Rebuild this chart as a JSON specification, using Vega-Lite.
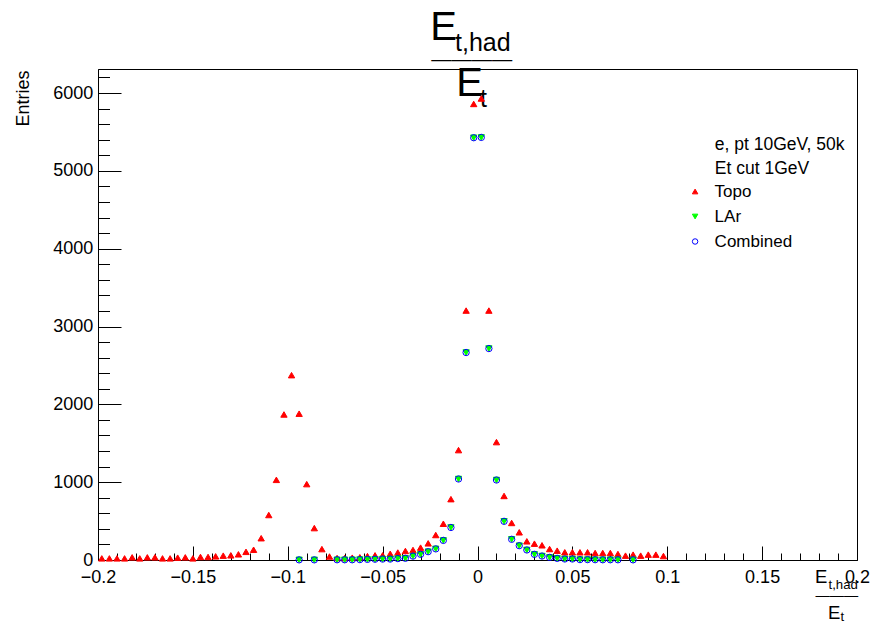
{
  "$schema": "https://vega.github.io/schema/vega-lite/v6.json",
  "width": 759,
  "height": 491,
  "autosize": {"type": "none"},
  "padding": {"left": 98, "top": 69, "right": 18, "bottom": 67},
  "background": "white",
  "config": {
    "view": {"stroke": "black", "strokeWidth": 1},
    "font": "Liberation Sans",
    "axis": {"grid": false},
    "legend": {
      "orient": "none", "legendX": 588.6, "legendY": 114, "padding": 0,
      "labelFont": "Liberation Sans", "labelFontSize": 17, "labelColor": "black", "labelOffset": 11, "labelLimit": 0,
      "symbolSize": 30, "symbolStrokeWidth": 1, "rowPadding": 7
    }
  },
  "data": {
    "values": [
      {"s": "Topo", "x": -0.198, "n": 21}, {"s": "Topo", "x": -0.194, "n": 21}, {"s": "Topo", "x": -0.19, "n": 21}, {"s": "Topo", "x": -0.186, "n": 21},
      {"s": "Topo", "x": -0.182, "n": 34}, {"s": "Topo", "x": -0.178, "n": 21}, {"s": "Topo", "x": -0.174, "n": 34}, {"s": "Topo", "x": -0.17, "n": 34},
      {"s": "Topo", "x": -0.166, "n": 21}, {"s": "Topo", "x": -0.162, "n": 21}, {"s": "Topo", "x": -0.158, "n": 30}, {"s": "Topo", "x": -0.154, "n": 34},
      {"s": "Topo", "x": -0.15, "n": 21}, {"s": "Topo", "x": -0.146, "n": 39}, {"s": "Topo", "x": -0.142, "n": 39}, {"s": "Topo", "x": -0.138, "n": 47},
      {"s": "Topo", "x": -0.134, "n": 56}, {"s": "Topo", "x": -0.13, "n": 60}, {"s": "Topo", "x": -0.126, "n": 73}, {"s": "Topo", "x": -0.122, "n": 105},
      {"s": "Topo", "x": -0.118, "n": 132}, {"s": "Topo", "x": -0.114, "n": 280}, {"s": "Topo", "x": -0.11, "n": 578}, {"s": "Topo", "x": -0.106, "n": 1030},
      {"s": "Topo", "x": -0.102, "n": 1870}, {"s": "Topo", "x": -0.098, "n": 2375}, {"s": "Topo", "x": -0.094, "n": 1880}, {"s": "Topo", "x": -0.09, "n": 975},
      {"s": "Topo", "x": -0.086, "n": 410}, {"s": "Topo", "x": -0.082, "n": 140}, {"s": "Topo", "x": -0.078, "n": 45}, {"s": "Topo", "x": -0.074, "n": 25},
      {"s": "Topo", "x": -0.07, "n": 25}, {"s": "Topo", "x": -0.066, "n": 30}, {"s": "Topo", "x": -0.062, "n": 35}, {"s": "Topo", "x": -0.058, "n": 50},
      {"s": "Topo", "x": -0.054, "n": 60}, {"s": "Topo", "x": -0.05, "n": 60}, {"s": "Topo", "x": -0.046, "n": 80}, {"s": "Topo", "x": -0.042, "n": 96},
      {"s": "Topo", "x": -0.038, "n": 116}, {"s": "Topo", "x": -0.034, "n": 129}, {"s": "Topo", "x": -0.03, "n": 159}, {"s": "Topo", "x": -0.026, "n": 214},
      {"s": "Topo", "x": -0.022, "n": 321}, {"s": "Topo", "x": -0.018, "n": 466}, {"s": "Topo", "x": -0.014, "n": 782}, {"s": "Topo", "x": -0.01, "n": 1412},
      {"s": "Topo", "x": -0.006, "n": 3205}, {"s": "Topo", "x": -0.002, "n": 5860}, {"s": "Topo", "x": 0.002, "n": 5930}, {"s": "Topo", "x": 0.006, "n": 3205},
      {"s": "Topo", "x": 0.01, "n": 1515}, {"s": "Topo", "x": 0.014, "n": 823}, {"s": "Topo", "x": 0.018, "n": 476}, {"s": "Topo", "x": 0.022, "n": 356},
      {"s": "Topo", "x": 0.026, "n": 240}, {"s": "Topo", "x": 0.03, "n": 210}, {"s": "Topo", "x": 0.034, "n": 189}, {"s": "Topo", "x": 0.038, "n": 141},
      {"s": "Topo", "x": 0.042, "n": 120}, {"s": "Topo", "x": 0.046, "n": 99}, {"s": "Topo", "x": 0.05, "n": 99}, {"s": "Topo", "x": 0.054, "n": 99},
      {"s": "Topo", "x": 0.058, "n": 99}, {"s": "Topo", "x": 0.062, "n": 90}, {"s": "Topo", "x": 0.066, "n": 90}, {"s": "Topo", "x": 0.07, "n": 90},
      {"s": "Topo", "x": 0.074, "n": 77}, {"s": "Topo", "x": 0.078, "n": 56}, {"s": "Topo", "x": 0.082, "n": 69}, {"s": "Topo", "x": 0.086, "n": 56},
      {"s": "Topo", "x": 0.09, "n": 69}, {"s": "Topo", "x": 0.094, "n": 69}, {"s": "Topo", "x": 0.098, "n": 51},
      {"s": "LAr", "x": -0.094, "n": 2}, {"s": "LAr", "x": -0.086, "n": 2}, {"s": "LAr", "x": -0.074, "n": 3}, {"s": "LAr", "x": -0.07, "n": 3},
      {"s": "LAr", "x": -0.066, "n": 3}, {"s": "LAr", "x": -0.062, "n": 5}, {"s": "LAr", "x": -0.058, "n": 8}, {"s": "LAr", "x": -0.054, "n": 10},
      {"s": "LAr", "x": -0.05, "n": 12}, {"s": "LAr", "x": -0.046, "n": 12}, {"s": "LAr", "x": -0.042, "n": 18}, {"s": "LAr", "x": -0.038, "n": 22},
      {"s": "LAr", "x": -0.034, "n": 50}, {"s": "LAr", "x": -0.03, "n": 73}, {"s": "LAr", "x": -0.026, "n": 107}, {"s": "LAr", "x": -0.022, "n": 143},
      {"s": "LAr", "x": -0.018, "n": 252}, {"s": "LAr", "x": -0.014, "n": 418}, {"s": "LAr", "x": -0.01, "n": 1041}, {"s": "LAr", "x": -0.006, "n": 2666},
      {"s": "LAr", "x": -0.002, "n": 5426}, {"s": "LAr", "x": 0.002, "n": 5430}, {"s": "LAr", "x": 0.006, "n": 2717}, {"s": "LAr", "x": 0.01, "n": 1028},
      {"s": "LAr", "x": 0.014, "n": 497}, {"s": "LAr", "x": 0.018, "n": 266}, {"s": "LAr", "x": 0.022, "n": 184}, {"s": "LAr", "x": 0.026, "n": 129},
      {"s": "LAr", "x": 0.03, "n": 73}, {"s": "LAr", "x": 0.034, "n": 51}, {"s": "LAr", "x": 0.038, "n": 34}, {"s": "LAr", "x": 0.042, "n": 21},
      {"s": "LAr", "x": 0.046, "n": 13}, {"s": "LAr", "x": 0.05, "n": 13}, {"s": "LAr", "x": 0.054, "n": 5}, {"s": "LAr", "x": 0.058, "n": 5},
      {"s": "LAr", "x": 0.062, "n": 4}, {"s": "LAr", "x": 0.066, "n": 3}, {"s": "LAr", "x": 0.07, "n": 3}, {"s": "LAr", "x": 0.074, "n": 3},
      {"s": "LAr", "x": 0.082, "n": 2},
      {"s": "Combined", "x": -0.094, "n": 2}, {"s": "Combined", "x": -0.086, "n": 2}, {"s": "Combined", "x": -0.074, "n": 3}, {"s": "Combined", "x": -0.07, "n": 3},
      {"s": "Combined", "x": -0.066, "n": 3}, {"s": "Combined", "x": -0.062, "n": 5}, {"s": "Combined", "x": -0.058, "n": 8}, {"s": "Combined", "x": -0.054, "n": 10},
      {"s": "Combined", "x": -0.05, "n": 12}, {"s": "Combined", "x": -0.046, "n": 12}, {"s": "Combined", "x": -0.042, "n": 18}, {"s": "Combined", "x": -0.038, "n": 22},
      {"s": "Combined", "x": -0.034, "n": 50}, {"s": "Combined", "x": -0.03, "n": 73}, {"s": "Combined", "x": -0.026, "n": 107}, {"s": "Combined", "x": -0.022, "n": 143},
      {"s": "Combined", "x": -0.018, "n": 252}, {"s": "Combined", "x": -0.014, "n": 418}, {"s": "Combined", "x": -0.01, "n": 1041}, {"s": "Combined", "x": -0.006, "n": 2666},
      {"s": "Combined", "x": -0.002, "n": 5426}, {"s": "Combined", "x": 0.002, "n": 5430}, {"s": "Combined", "x": 0.006, "n": 2717}, {"s": "Combined", "x": 0.01, "n": 1028},
      {"s": "Combined", "x": 0.014, "n": 497}, {"s": "Combined", "x": 0.018, "n": 266}, {"s": "Combined", "x": 0.022, "n": 184}, {"s": "Combined", "x": 0.026, "n": 129},
      {"s": "Combined", "x": 0.03, "n": 73}, {"s": "Combined", "x": 0.034, "n": 51}, {"s": "Combined", "x": 0.038, "n": 34}, {"s": "Combined", "x": 0.042, "n": 21},
      {"s": "Combined", "x": 0.046, "n": 13}, {"s": "Combined", "x": 0.05, "n": 13}, {"s": "Combined", "x": 0.054, "n": 5}, {"s": "Combined", "x": 0.058, "n": 5},
      {"s": "Combined", "x": 0.062, "n": 4}, {"s": "Combined", "x": 0.066, "n": 3}, {"s": "Combined", "x": 0.07, "n": 3}, {"s": "Combined", "x": 0.074, "n": 3},
      {"s": "Combined", "x": 0.082, "n": 2}
    ]
  },
  "resolve": {"scale": {"x": "shared", "y": "shared"}, "axis": {"x": "independent", "y": "independent"}},
  "layer": [
    {
      "mark": {"type": "point", "opacity": 1, "strokeWidth": 1, "size": 40},
      "encoding": {
        "x": {
          "field": "x", "type": "quantitative",
          "scale": {"domain": [-0.2, 0.2], "nice": false, "zero": false},
          "axis": {
            "orient": "bottom",
            "values": [-0.2, -0.19, -0.18, -0.17, -0.16, -0.15, -0.14, -0.13, -0.12, -0.11, -0.1, -0.09, -0.08, -0.07, -0.06, -0.05, -0.04, -0.03, -0.02, -0.01, 0, 0.01, 0.02, 0.03, 0.04, 0.05, 0.06, 0.07, 0.08, 0.09, 0.1, 0.11, 0.12, 0.13, 0.14, 0.15, 0.16, 0.17, 0.18, 0.19, 0.2],
            "format": "~g",
            "labelExpr": "abs(round(datum.value*100)) % 5 == 0 ? datum.label : ''",
            "tickSize": {"condition": {"test": "abs(round(datum.value*100)) % 5 == 0", "value": -14}, "value": -7},
            "tickColor": "black", "tickWidth": 1,
            "domainColor": "black", "domainWidth": 1,
            "labelFont": "Liberation Sans", "labelFontSize": 18, "labelColor": "black",
            "labelPadding": 22, "labelFlush": false, "labelOverlap": false, "labelBound": false,
            "title": "E", "titleX": 716.5, "titleY": 22, "titleAlign": "left", "titleBaseline": "alphabetic", "titleAngle": 0,
            "titleFont": "Liberation Sans", "titleFontSize": 18.5, "titleFontWeight": "normal", "titleColor": "black"
          }
        },
        "y": {
          "field": "n", "type": "quantitative",
          "scale": {"domain": [0, 6309], "nice": false, "zero": true},
          "axis": {
            "orient": "left",
            "values": [0, 200, 400, 600, 800, 1000, 1200, 1400, 1600, 1800, 2000, 2200, 2400, 2600, 2800, 3000, 3200, 3400, 3600, 3800, 4000, 4200, 4400, 4600, 4800, 5000, 5200, 5400, 5600, 5800, 6000, 6200],
            "format": "d",
            "labelExpr": "datum.value % 1000 == 0 ? datum.label : ''",
            "tickSize": {"condition": {"test": "datum.value % 1000 == 0", "value": -23}, "value": -11.5},
            "tickColor": "black", "tickWidth": 1,
            "domainColor": "black", "domainWidth": 1,
            "labelFont": "Liberation Sans", "labelFontSize": 18, "labelColor": "black",
            "labelPadding": 28.3, "labelFlush": false, "labelOverlap": false, "labelBound": false,
            "title": "Entries", "titleX": -70, "titleY": 1, "titleAlign": "right", "titleBaseline": "alphabetic", "titleAngle": -90,
            "titleFont": "Liberation Sans", "titleFontSize": 18, "titleFontWeight": "normal", "titleColor": "black"
          }
        },
        "shape": {
          "field": "s", "type": "nominal",
          "scale": {"domain": ["Topo", "LAr", "Combined"], "range": ["triangle-up", "triangle-down", "circle"]},
          "legend": {"title": null}
        },
        "fill": {
          "field": "s", "type": "nominal",
          "scale": {"domain": ["Topo", "LAr", "Combined"], "range": ["#ff0000", "#00ff00", "transparent"]},
          "legend": {"title": null}
        },
        "stroke": {
          "field": "s", "type": "nominal",
          "scale": {"domain": ["Topo", "LAr", "Combined"], "range": ["#ff0000", "#00ff00", "#0000ff"]},
          "legend": {"title": null}
        }
      }
    },
    {
      "transform": [{"filter": "false"}],
      "mark": "point",
      "encoding": {
        "x": {"field": "x", "type": "quantitative", "axis": {"orient": "top", "domain": false, "ticks": false, "labels": false, "title": "E", "titleX": 331.8, "titleY": -30, "titleAlign": "left", "titleBaseline": "alphabetic", "titleAngle": 0, "titleFont": "Liberation Sans", "titleFontSize": 40, "titleFontWeight": "normal", "titleColor": "black"}},
        "y": {"field": "n", "type": "quantitative", "axis": {"orient": "left", "domain": false, "ticks": false, "labels": false, "title": "t,had", "titleX": 356.5, "titleY": -18.3, "titleAlign": "left", "titleBaseline": "alphabetic", "titleAngle": 0, "titleFont": "Liberation Sans", "titleFontSize": 25, "titleFontWeight": "normal", "titleColor": "black"}}
      }
    },
    {
      "transform": [{"filter": "false"}],
      "mark": "point",
      "encoding": {
        "x": {"field": "x", "type": "quantitative", "axis": {"orient": "top", "domain": false, "ticks": false, "labels": false, "title": "————", "titleX": 332.7, "titleY": -3.7, "titleAlign": "left", "titleBaseline": "alphabetic", "titleAngle": 0, "titleFont": "Liberation Sans", "titleFontSize": 20.25, "titleFontWeight": "normal", "titleColor": "black"}},
        "y": {"field": "n", "type": "quantitative", "axis": {"orient": "left", "domain": false, "ticks": false, "labels": false, "title": "E", "titleX": 357.8, "titleY": 26, "titleAlign": "left", "titleBaseline": "alphabetic", "titleAngle": 0, "titleFont": "Liberation Sans", "titleFontSize": 40, "titleFontWeight": "normal", "titleColor": "black"}}
      }
    },
    {
      "transform": [{"filter": "false"}],
      "mark": "point",
      "encoding": {
        "x": {"field": "x", "type": "quantitative", "axis": {"orient": "top", "domain": false, "ticks": false, "labels": false, "title": "t", "titleX": 381.5, "titleY": 37.5, "titleAlign": "left", "titleBaseline": "alphabetic", "titleAngle": 0, "titleFont": "Liberation Sans", "titleFontSize": 25, "titleFontWeight": "normal", "titleColor": "black"}},
        "y": {"field": "n", "type": "quantitative", "axis": {"orient": "left", "domain": false, "ticks": false, "labels": false, "title": "t,had", "titleX": 730, "titleY": 519, "titleAlign": "left", "titleBaseline": "alphabetic", "titleAngle": 0, "titleFont": "Liberation Sans", "titleFontSize": 13.2, "titleFontWeight": "normal", "titleColor": "black"}}
      }
    },
    {
      "transform": [{"filter": "false"}],
      "mark": "point",
      "encoding": {
        "x": {"field": "x", "type": "quantitative", "axis": {"orient": "top", "domain": false, "ticks": false, "labels": false, "title": "———", "titleX": 717, "titleY": 530.7, "titleAlign": "left", "titleBaseline": "alphabetic", "titleAngle": 0, "titleFont": "Liberation Sans", "titleFontSize": 14.2, "titleFontWeight": "normal", "titleColor": "black"}},
        "y": {"field": "n", "type": "quantitative", "axis": {"orient": "left", "domain": false, "ticks": false, "labels": false, "title": "E", "titleX": 729.5, "titleY": 549.3, "titleAlign": "left", "titleBaseline": "alphabetic", "titleAngle": 0, "titleFont": "Liberation Sans", "titleFontSize": 18.5, "titleFontWeight": "normal", "titleColor": "black"}}
      }
    },
    {
      "transform": [{"filter": "false"}],
      "mark": "point",
      "encoding": {
        "x": {"field": "x", "type": "quantitative", "axis": {"orient": "top", "domain": false, "ticks": false, "labels": false, "title": "t", "titleX": 742, "titleY": 551, "titleAlign": "left", "titleBaseline": "alphabetic", "titleAngle": 0, "titleFont": "Liberation Sans", "titleFontSize": 13.2, "titleFontWeight": "normal", "titleColor": "black"}},
        "y": {"field": "n", "type": "quantitative", "axis": {"orient": "left", "domain": false, "ticks": false, "labels": false, "title": ["e, pt 10GeV, 50k", "Et cut 1GeV"], "titleX": 616.3, "titleY": 80.3, "titleAlign": "left", "titleBaseline": "alphabetic", "titleAngle": 0, "titleLineHeight": 24, "titleFont": "Liberation Sans", "titleFontSize": 17.5, "titleFontWeight": "normal", "titleColor": "black"}}
      }
    }
  ]
}
